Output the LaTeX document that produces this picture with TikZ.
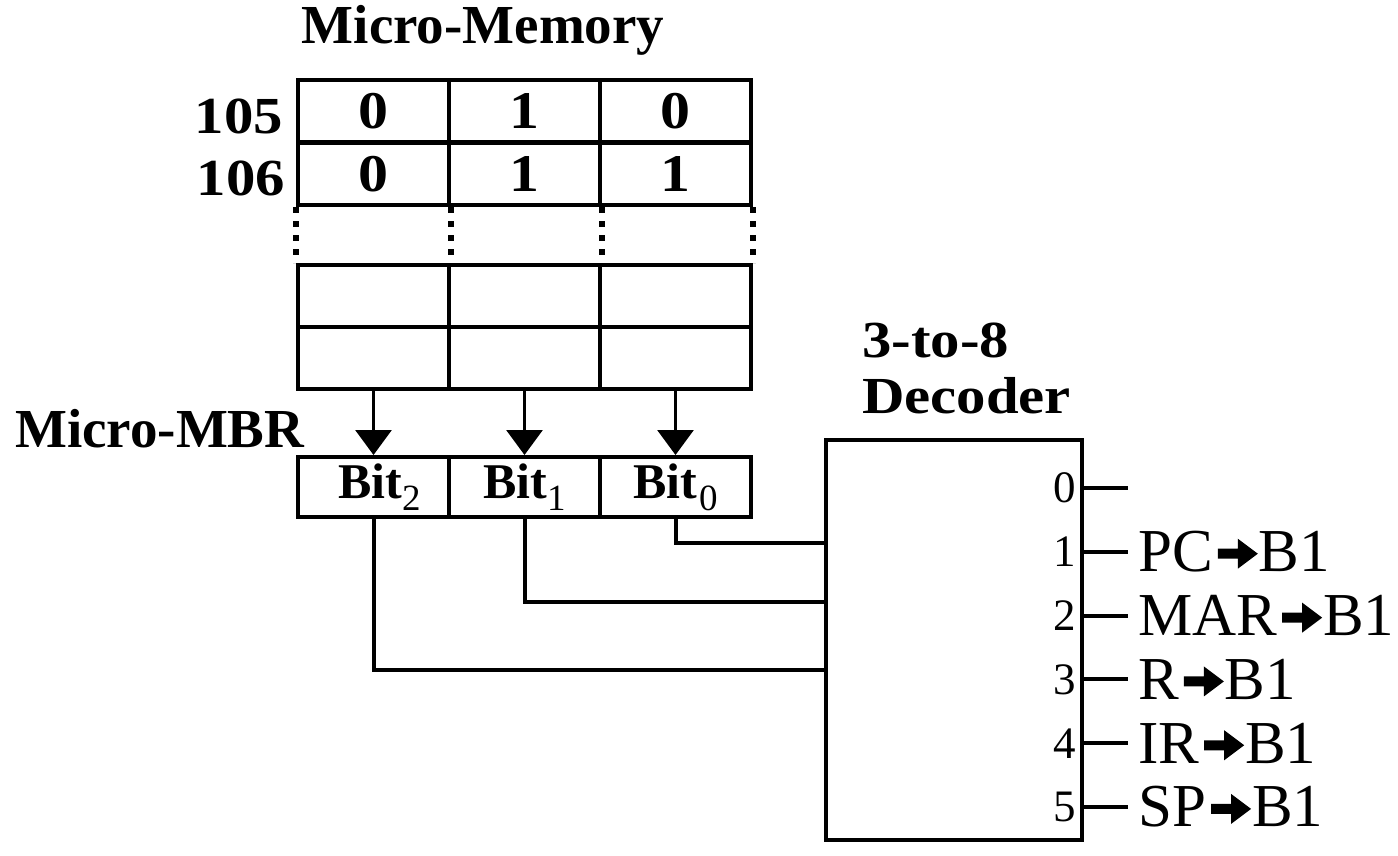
\documentclass[tikz,border=0pt]{standalone}
\usepackage{fontspec}
\setmainfont{Liberation Serif}
\newfontfamily\widefont{Liberation Serif}[FakeStretch=1.13]
\usetikzlibrary{arrows.meta}
\newcommand{\fs}[1]{\fontsize{#1}{#1}\selectfont}
\newcommand{\toB}{\kern5pt\tikz[baseline={(0,-18pt)},x=1pt,y=1pt]\fill (0,-5)--(20,-5)--(20,-15)--(40,0)--(20,15)--(20,5)--(0,5)--cycle;\kern1pt}
\newcommand{\sub}[1]{\raisebox{-12pt}{\fs{37}\mdseries #1}}
\tikzset{
  cell/.style={draw, line width=4pt, minimum width=151pt, minimum height=62pt, inner sep=0pt, font=\fs{53}\widefont\bfseries},
  mbr/.style={draw, line width=4pt, minimum width=151pt, minimum height=60pt, inner sep=0pt, font=\fs{50}\bfseries},
  wire/.style={line width=4pt},
  dotl/.style={line width=6pt, dash pattern=on 6pt off 8pt},
  feed/.style={line width=3pt, -{Triangle[length=25pt,width=36pt]}},
  lbl/.style={inner sep=0pt, font=\fs{52}\widefont\bfseries},
  head/.style={inner sep=0pt, font=\fs{55}\bfseries},
  outlbl/.style={inner sep=0pt, anchor=west, font=\fs{61}},
  pinl/.style={inner sep=0pt, anchor=east, font=\fs{45}},
}
\begin{document}
\begin{tikzpicture}[x=1pt,y=-1pt]
\useasboundingbox (0,0) rectangle (1398,856);
% title
\node[head] (title) at (483,30) {Micro-Memory};
% memory cells
\node[cell] (m11) at (373.5,111.5) {0};
\node[cell] (m12) at (524.5,111.5) {1};
\node[cell] (m13) at (675.5,111.5) {0};
\node[cell] (m21) at (373.5,174) {0};
\node[cell] (m22) at (524.5,174) {1};
\node[cell] (m23) at (675.5,174) {1};
\node[cell] (m31) at (373.5,296) {};
\node[cell] (m32) at (524.5,296) {};
\node[cell] (m33) at (675.5,296) {};
\node[cell] (m41) at (373.5,357.5) {};
\node[cell] (m42) at (524.5,357.5) {};
\node[cell] (m43) at (675.5,357.5) {};
\node[lbl, anchor=base east] (r105) at (283,134) {105};
\node[lbl, anchor=base east] (r106) at (285,196) {106};
% dotted gap
\draw[dotl] (m21.south west) -- (m31.north west);
\draw[dotl] (m21.south east) -- (m31.north east);
\draw[dotl] (m22.south east) -- (m32.north east);
\draw[dotl] (m23.south east) -- (m33.north east);
% MBR
\node[head, anchor=base west] (mbrlbl) at (15,447) {Micro-MBR};
\node[mbr] (b2) at (373.5,487) {\hspace*{12pt}Bit\sub{2}};
\node[mbr] (b1) at (524.5,487) {Bit\sub{1}};
\node[mbr] (b0) at (675.5,487) {Bit\kern2pt\sub{0}};
\draw[feed] (m41.south) -- (b2.north);
\draw[feed] (m42.south) -- (b1.north);
\draw[feed] (m43.south) -- (b0.north);
% decoder
\node[draw, line width=4pt, minimum width=256pt, minimum height=400pt, inner sep=0pt] (dec) at (954,640) {};
\node[lbl, anchor=base west] (dt1) at (862,357) {3-to-8};
\node[lbl, anchor=base west] (dt2) at (862,413) {Decoder};
\coordinate (i0) at (826,543);
\coordinate (i1) at (826,602);
\coordinate (i2) at (826,670);
\draw[wire] (b0.south) |- (i0);
\draw[wire] (b1.south) |- (i1);
\draw[wire] (b2.south) |- (i2);
% outputs
\foreach \i/\t in {0/{},1/{PC\toB B1},2/{MAR\toB B1},3/{R\toB B1},4/{IR\toB B1},5/{SP\toB B1}}{
  \pgfmathsetmacro{\yy}{488+63.8*\i}
  \node[pinl] (p\i) at (1076,\yy) {\i};
  \coordinate (o\i) at (1082,\yy);
  \coordinate (e\i) at (1128,\yy);
  \draw[wire] (o\i) -- (e\i);
  \node[outlbl] (l\i) at (1138,\yy) {\t};
}
\end{tikzpicture}
\end{document}
